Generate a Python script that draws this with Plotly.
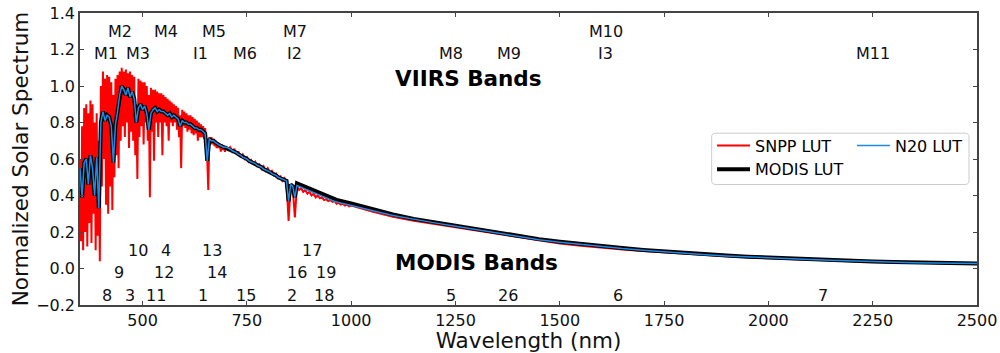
import numpy as np
import plotly.graph_objects as go

# ---------------- data ----------------
# SNPP LUT (high resolution), visible part 350-700 nm every 2.5 nm
snpp_vis = [0.60, 0.15, 0.78, 0.10, 0.88, 0.20, 0.90, 0.12, 0.85, 0.25,
            0.92, 0.14, 0.90, 0.30, 0.80, 0.10, 0.85, 0.18, 0.70, 0.04,
            1.00, 0.45, 1.08, 0.60, 1.04, 0.35, 1.06, 0.30, 1.05, 0.45,
            1.02, 0.32, 0.95, 0.50, 1.04, 0.62, 1.06, 0.55, 1.08, 0.70,
            1.10, 0.78, 1.08, 0.72, 1.09, 0.80, 1.07, 0.66, 1.08, 0.75,
            1.06, 0.70, 1.05, 0.62, 0.90, 0.49, 1.04, 0.72, 1.03, 0.78,
            1.02, 0.68, 1.02, 0.80, 1.00, 0.70, 0.95, 0.39, 0.99, 0.75,
            0.98, 0.59, 0.98, 0.80, 0.97, 0.72, 0.96, 0.80, 0.96, 0.62,
            0.95, 0.80, 0.94, 0.78, 0.93, 0.70, 0.92, 0.80, 0.91, 0.78,
            0.90, 0.80, 0.89, 0.76, 0.88, 0.72, 0.84, 0.55, 0.87, 0.78,
            0.86, 0.77, 0.85, 0.75, 0.84, 0.76, 0.84, 0.74, 0.83, 0.73,
            0.82, 0.74, 0.81, 0.70, 0.80, 0.72, 0.79, 0.72, 0.78, 0.71,
            0.77, 0.70, 0.60, 0.43, 0.72, 0.68, 0.72, 0.68, 0.71, 0.67,
            0.70, 0.66, 0.69, 0.66, 0.68, 0.64, 0.68, 0.65, 0.67, 0.64,
            0.67]
# SNPP LUT, 705-1000 nm every 5 nm
snpp_nir = [0.65, 0.665, 0.64, 0.655, 0.625, 0.64, 0.61, 0.625, 0.60, 0.61,
            0.585, 0.595, 0.575, 0.585, 0.56, 0.57, 0.545, 0.56, 0.535, 0.55,
            0.525, 0.535, 0.51, 0.52, 0.495, 0.505, 0.48, 0.495, 0.47, 0.26,
            0.46, 0.44, 0.28, 0.45, 0.43, 0.44, 0.42, 0.43, 0.41, 0.42,
            0.40, 0.41, 0.39, 0.40, 0.385, 0.39, 0.375, 0.38, 0.37, 0.375,
            0.365, 0.37, 0.355, 0.36, 0.35, 0.355, 0.345, 0.35, 0.34, 0.345]
# SNPP LUT, 1050-2500 nm every 50 nm
snpp_swir = [0.312, 0.283, 0.261, 0.243, 0.226, 0.205, 0.189, 0.170, 0.152, 0.137,
             0.124, 0.113, 0.104, 0.096, 0.088, 0.080, 0.073, 0.067, 0.061, 0.056,
             0.052, 0.048, 0.044, 0.040, 0.036, 0.033, 0.031, 0.029, 0.027, 0.026]

# N20 LUT, 350-1000 nm every 5 nm
n20_vnir = [0.55, 0.39, 0.58, 0.60, 0.46, 0.62, 0.55, 0.40, 0.61, 0.33,
            0.80, 0.86, 0.81, 0.84, 0.83, 0.78, 0.58, 0.79, 0.86, 0.95,
            1.00, 0.98, 0.95, 0.99, 0.94, 0.97, 0.93, 0.80, 0.88, 0.90,
            0.87, 0.89, 0.85, 0.76, 0.85, 0.87, 0.88, 0.86, 0.87, 0.86,
            0.86, 0.85, 0.84, 0.85, 0.83, 0.84, 0.83, 0.82, 0.78, 0.81,
            0.80, 0.80, 0.79, 0.79, 0.78, 0.77, 0.77, 0.76, 0.76, 0.75,
            0.74, 0.59, 0.71, 0.70, 0.70, 0.69, 0.68, 0.675, 0.67, 0.665,
            0.665, 0.66, 0.655, 0.645, 0.64, 0.635, 0.625, 0.62, 0.61, 0.605,
            0.60, 0.59, 0.585, 0.58, 0.575, 0.565, 0.56, 0.555, 0.545, 0.54,
            0.535, 0.53, 0.52, 0.515, 0.51, 0.50, 0.495, 0.49, 0.485, 0.48,
            0.37, 0.46, 0.45, 0.39, 0.455, 0.45, 0.445, 0.44, 0.435, 0.43,
            0.425, 0.42, 0.415, 0.41, 0.405, 0.40, 0.395, 0.39, 0.385, 0.38,
            0.375, 0.37, 0.368, 0.365, 0.362, 0.36, 0.357, 0.354, 0.35, 0.347,
            0.344]
# N20 LUT, 1050-2500 nm every 50 nm
n20_swir = [0.318, 0.290, 0.268, 0.250, 0.232, 0.213, 0.194, 0.176, 0.158, 0.144,
            0.131, 0.120, 0.109, 0.100, 0.091, 0.082, 0.075, 0.069, 0.063, 0.058,
            0.053, 0.049, 0.045, 0.041, 0.037, 0.034, 0.032, 0.030, 0.028, 0.027]

# MODIS LUT, 350-1000 nm every 5 nm
modis_vnir = [0.55, 0.39, 0.58, 0.60, 0.46, 0.62, 0.55, 0.40, 0.61, 0.33,
              0.80, 0.86, 0.81, 0.84, 0.83, 0.78, 0.58, 0.79, 0.86, 0.95,
              1.00, 0.98, 0.95, 0.99, 0.94, 0.97, 0.93, 0.80, 0.88, 0.90,
              0.87, 0.89, 0.85, 0.76, 0.85, 0.87, 0.88, 0.86, 0.87, 0.86,
              0.86, 0.85, 0.84, 0.85, 0.83, 0.84, 0.83, 0.82, 0.78, 0.81,
              0.80, 0.80, 0.79, 0.79, 0.78, 0.77, 0.77, 0.76, 0.76, 0.75,
              0.74, 0.59, 0.71, 0.70, 0.70, 0.69, 0.68, 0.675, 0.67, 0.665,
              0.665, 0.66, 0.655, 0.645, 0.64, 0.635, 0.625, 0.62, 0.61, 0.605,
              0.60, 0.59, 0.585, 0.58, 0.575, 0.565, 0.56, 0.555, 0.545, 0.54,
              0.535, 0.53, 0.52, 0.515, 0.51, 0.50, 0.495, 0.49, 0.485, 0.48,
              0.37, 0.46, 0.45, 0.39, 0.467, 0.462, 0.457, 0.452, 0.447, 0.442,
              0.437, 0.432, 0.427, 0.422, 0.417, 0.412, 0.407, 0.402, 0.397, 0.392,
              0.387, 0.382, 0.379, 0.376, 0.373, 0.371, 0.368, 0.365, 0.362, 0.359,
              0.356]
# MODIS LUT, 1050-2500 nm every 50 nm
modis_swir = [0.326, 0.296, 0.272, 0.253, 0.235, 0.216, 0.197, 0.179, 0.161, 0.147,
              0.134, 0.123, 0.112, 0.102, 0.093, 0.084, 0.077, 0.071, 0.065, 0.060,
              0.055, 0.051, 0.047, 0.043, 0.039, 0.036, 0.033, 0.031, 0.029, 0.028]

# band labels
viirs_row1 = [("M2", 445), ("M4", 555), ("M5", 672), ("M7", 865), ("M10", 1610)]
viirs_row2 = [("M1", 412), ("M3", 488), ("I1", 640), ("M6", 746), ("I2", 865),
              ("M8", 1240), ("M9", 1378), ("I3", 1610), ("M11", 2250)]
modis_row1 = [("10", 488), ("4", 555), ("13", 667), ("17", 905)]
modis_row2 = [("9", 443), ("12", 551), ("14", 678), ("16", 869.5), ("19", 940)]
modis_row3 = [("8", 415), ("3", 469), ("11", 531), ("1", 645), ("15", 748),
              ("2", 858), ("18", 936), ("5", 1240), ("26", 1375), ("6", 1640),
              ("7", 2130)]
row_y = {"v1": 1.30, "v2": 1.18, "m1": 0.10, "m2": -0.02, "m3": -0.148}

x_ticks = [500, 750, 1000, 1250, 1500, 1750, 2000, 2250, 2500]
y_ticks = [-0.2, 0.0, 0.2, 0.4, 0.6, 0.8, 1.0, 1.2, 1.4]

# ---------------- wavelength grids ----------------
wl_snpp = np.concatenate([350 + 2.5 * np.arange(len(snpp_vis)),
                          705 + 5 * np.arange(len(snpp_nir)),
                          1050 + 50 * np.arange(len(snpp_swir))])
val_snpp = snpp_vis + snpp_nir + snpp_swir
wl_n20 = np.concatenate([350 + 5 * np.arange(len(n20_vnir)),
                         1050 + 50 * np.arange(len(n20_swir))])
val_n20 = n20_vnir + n20_swir
wl_modis = np.concatenate([350 + 5 * np.arange(len(modis_vnir)),
                           1050 + 50 * np.arange(len(modis_swir))])
val_modis = modis_vnir + modis_swir

FONT = "DejaVu Sans"

fig = go.Figure()
fig.add_trace(go.Scatter(x=wl_snpp, y=val_snpp, mode="lines", name="SNPP LUT",
                         line=dict(color="#ff0000", width=2), legend="legend",
                         legendrank=1))
fig.add_trace(go.Scatter(x=wl_modis, y=val_modis, mode="lines", name="MODIS LUT",
                         line=dict(color="#000000", width=4), legend="legend",
                         legendrank=2))
fig.add_trace(go.Scatter(x=wl_n20, y=val_n20, mode="lines", name="N20 LUT",
                         line=dict(color="#1e8ae6", width=1.5), legend="legend2",
                         legendrank=3))

annots = []
for key, rows in (("v1", viirs_row1), ("v2", viirs_row2), ("m1", modis_row1),
                  ("m2", modis_row2), ("m3", modis_row3)):
    for txt, wl in rows:
        annots.append(dict(x=wl, y=row_y[key], xref="x", yref="y", text=txt,
                           showarrow=False, xanchor="center", yanchor="middle",
                           font=dict(family=FONT, size=16, color="#111111")))
annots.append(dict(x=1100, y=1.04, xref="x", yref="y", text="<b>VIIRS Bands</b>",
                   showarrow=False, xanchor="left", yanchor="middle",
                   font=dict(family=FONT, size=21.5, color="#000000")))
annots.append(dict(x=1100, y=0.035, xref="x", yref="y", text="<b>MODIS Bands</b>",
                   showarrow=False, xanchor="left", yanchor="middle",
                   font=dict(family=FONT, size=21.5, color="#000000")))

# legend frame (rounded) in paper coordinates
x0, x1, y0, y1 = 0.7042, 0.9911, 0.4127, 0.5884
rx, ry = 0.0045, 0.0137
frame = (f"M{x0+rx},{y0} L{x1-rx},{y0} Q{x1},{y0} {x1},{y0+ry} L{x1},{y1-ry} "
         f"Q{x1},{y1} {x1-rx},{y1} L{x0+rx},{y1} Q{x0},{y1} {x0},{y1-ry} "
         f"L{x0},{y0+ry} Q{x0},{y0} {x0+rx},{y0} Z")

fig.update_layout(
    width=1000, height=353,
    margin=dict(l=80, r=23, t=13, b=48),
    paper_bgcolor="white", plot_bgcolor="white",
    font=dict(family=FONT, size=16, color="#000000"),
    annotations=annots,
    shapes=[dict(type="path", path=frame, xref="paper", yref="paper",
                 line=dict(color="#cccccc", width=1),
                 fillcolor="rgba(255,255,255,0.8)", layer="above")],
    legend=dict(x=0.7046, y=0.6045, xanchor="left", yanchor="top",
                bgcolor="rgba(0,0,0,0)", borderwidth=0, itemwidth=33,
                font=dict(family=FONT, size=16, color="#000000")),
    legend2=dict(x=0.8606, y=0.6045, xanchor="left", yanchor="top",
                 bgcolor="rgba(0,0,0,0)", borderwidth=0, itemwidth=33,
                 font=dict(family=FONT, size=16, color="#000000")),
)
fig.update_xaxes(range=[350, 2500], tickvals=x_ticks, ticks="inside", ticklen=4,
                 tickwidth=1.2, tickcolor="#444444", showline=True, linewidth=1.5,
                 linecolor="#444444", mirror="ticks", showgrid=False, zeroline=False,
                 automargin=False, ticklabeloverflow="allow",
                 tickfont=dict(family=FONT, size=16, color="#111111"),
                 title=dict(text="Wavelength (nm)", standoff=4,
                            font=dict(family=FONT, size=21.5, color="#111111")))
fig.update_yaxes(range=[-0.2, 1.4], tickvals=y_ticks, tickformat=".1f", ticks="inside",
                 ticklen=4, tickwidth=1.2, tickcolor="#444444", showline=True,
                 linewidth=1.5, linecolor="#444444", mirror="ticks", showgrid=False,
                 zeroline=False, automargin=False, ticklabeloverflow="allow",
                 tickfont=dict(family=FONT, size=16, color="#111111"),
                 title=dict(text="Normalized Solar Spectrum", standoff=2,
                            font=dict(family=FONT, size=21.5, color="#111111")))

# remove the browser's default page margin so the figure fills the window exactly
fig.write_html("out.html", config={"displayModeBar": False},
               post_script="document.body.style.margin='0';document.body.style.padding='0';")
